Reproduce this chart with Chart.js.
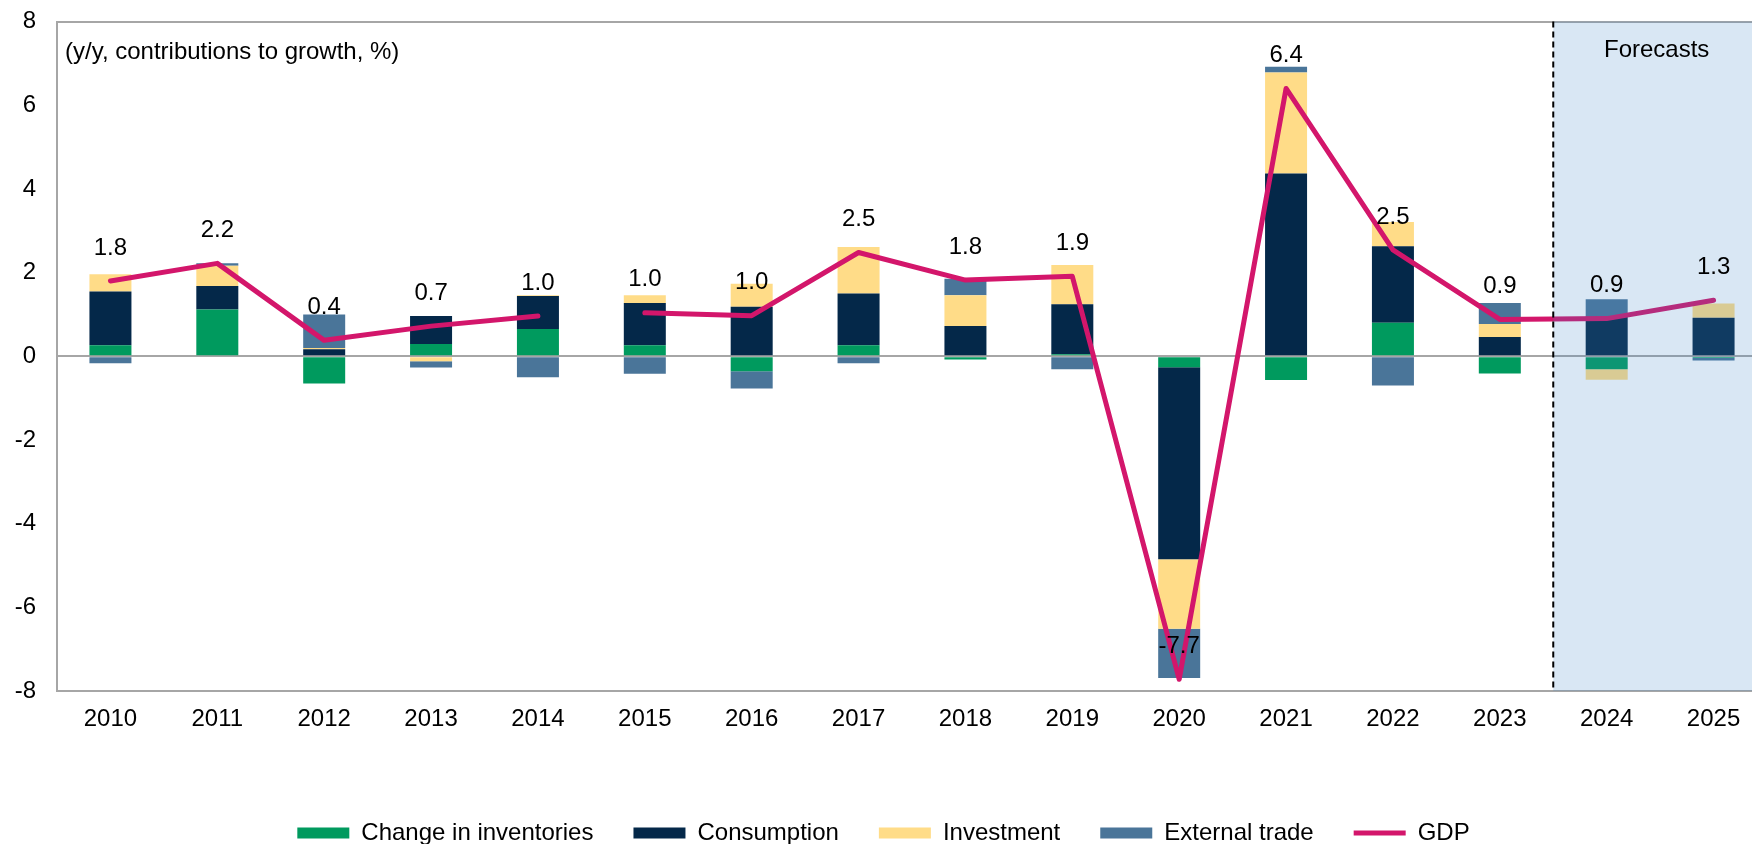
<!DOCTYPE html>
<html>
<head>
<meta charset="utf-8">
<title>GDP contributions</title>
<script src="https://cdn.jsdelivr.net/npm/chart.js@4"></script>
<style>
    html, body { margin: 0; padding: 0; overflow: hidden; background: #fff; }
    #wrap { width: 1767px; height: 855px; }
</style>
</head>
<body>
<div id="wrap"><canvas id="myChart" width="1767" height="855"></canvas></div>
<script>
// Données (contributions à la croissance, en points de %)
const years = ['2010', '2011', '2012', '2013', '2014', '2015', '2016', '2017',
               '2018', '2019', '2020', '2021', '2022', '2023', '2024', '2025'];
const inventories   = [0.26, 1.12, -0.65, 0.29, 0.65, 0.26, -0.36, 0.26, -0.08, 0.05, -0.26, -0.57, 0.80, -0.41, -0.31, -0.04];
const consumption   = [1.29, 0.56, 0.17, 0.67, 0.79, 1.01, 1.18, 1.24, 0.72, 1.19, -4.59, 4.37, 1.83, 0.46, 0.95, 0.92];
const investment    = [0.41, 0.48, 0.03, -0.12, 0.02, 0.19, 0.55, 1.11, 0.74, 0.94, -1.66, 2.41, 0.58, 0.31, -0.25, 0.34];
const externalTrade = [-0.17, 0.06, 0.80, -0.15, -0.50, -0.42, -0.41, -0.17, 0.39, -0.31, -1.18, 0.14, -0.70, 0.50, 0.41, -0.06];
const gdp           = [1.80, 2.22, 0.38, 0.72, 0.96, 1.04, 0.97, 2.48, 1.82, 1.91, -7.72, 6.40, 2.54, 0.88, 0.90, 1.34];
const yTicks = [-8, -6, -4, -2, 0, 2, 4, 6, 8];
const firstForecast = 14; // index de 2024

const FONT = "'Liberation Sans', Arial, sans-serif";
Chart.defaults.font.family = FONT;
Chart.defaults.font.size = 24;
Chart.defaults.color = '#000';

// Zone de prévisions, étiquettes du PIB et textes
const forecastPlugin = {
    id: 'forecast',
    afterDatasetsDraw(chart) {
        const { ctx, chartArea, scales: { x } } = chart;
        const xStart = (x.getPixelForValue(firstForecast - 1) + x.getPixelForValue(firstForecast)) / 2;
        ctx.save();
        ctx.fillStyle = 'rgba(65, 135, 200, 0.2)';
        ctx.fillRect(xStart, chartArea.top, chartArea.right - xStart, chartArea.bottom - chartArea.top);

        ctx.strokeStyle = '#000';
        ctx.lineWidth = 2;
        ctx.setLineDash([6, 4]);
        ctx.beginPath();
        ctx.moveTo(xStart, chartArea.top);
        ctx.lineTo(xStart, chartArea.bottom);
        ctx.stroke();
        ctx.setLineDash([]);

        ctx.font = '24px ' + FONT;
        ctx.fillStyle = '#000';
        ctx.textBaseline = 'middle';
        ctx.textAlign = 'center';
        const meta = chart.getDatasetMeta(4);
        meta.data.forEach((pt, i) => {
            ctx.fillText(gdp[i].toFixed(1), pt.x, pt.y - 33);
        });
        ctx.fillText('Forecasts', x.getPixelForValue(firstForecast) + 50, chartArea.top + 29);

        ctx.textAlign = 'left';
        ctx.fillText('(y/y, contributions to growth, %)', chartArea.left + 8, chartArea.top + 31);
        ctx.restore();
    }
};

function barSet(label, data, color) {
    return {
        label: label,
        data: data,
        backgroundColor: color,
        borderWidth: 0,
        pointStyle: 'rect',
        barPercentage: 0.393,
        categoryPercentage: 1.0,
        order: 1
    };
}

let ctx = document.getElementById('myChart').getContext('2d');
let myChart = new Chart(ctx, {
    type: 'bar',
    data: {
        labels: years,
        datasets: [
            barSet('Change in inventories', inventories, '#009A5E'),
            barSet('Consumption', consumption, '#042849'),
            barSet('Investment', investment, '#FFDC88'),
            barSet('External trade', externalTrade, '#4A7599'),
            {
                type: 'line',
                label: 'GDP',
                data: gdp,
                stack: 'gdp',
                borderColor: '#D3166B',
                backgroundColor: '#D3166B',
                borderWidth: 5,
                borderCapStyle: 'round',
                borderJoinStyle: 'round',
                pointRadius: 0,
                pointStyle: 'line',
                tension: 0,
                order: 0,
                // pas de segment entre 2014 et 2015
                segment: {
                    borderColor: c => c.p0DataIndex === 4 ? 'rgba(0,0,0,0)' : undefined
                }
            }
        ]
    },
    options: {
        responsive: false,
        animation: false,
        layout: { padding: { top: 21.5, left: 0, right: 0, bottom: 0 } },
        plugins: {
            tooltip: { enabled: false },
            legend: {
                position: 'bottom',
                labels: {
                    usePointStyle: true,
                    pointStyleWidth: 52,
                    boxHeight: 11,
                    padding: 40,
                    color: '#000',
                    font: { size: 24 },
                    sort: (a, b) => a.datasetIndex - b.datasetIndex
                }
            }
        },
        scales: {
            x: {
                stacked: true,
                offset: true,
                grid: { display: false, drawTicks: false },
                border: { display: true, color: '#A6A6A6', width: 2 },
                ticks: { padding: 14, color: '#000', maxRotation: 0, autoSkip: false },
                afterFit: scale => { scale.height = 90; }
            },
            y: {
                stacked: true,
                min: -8,
                max: 8,
                afterBuildTicks: scale => { scale.ticks = yTicks.map(v => ({ value: v })); },
                grid: {
                    drawTicks: false,
                    lineWidth: 2,
                    color: c => (c.tick && (c.tick.value === 0 || c.tick.value === 8)) ? '#A6A6A6' : 'rgba(0,0,0,0)'
                },
                border: { display: true, color: '#A6A6A6', width: 2 },
                ticks: { padding: 21, color: '#000' },
                afterFit: scale => {
                    scale.width = 57;
                    scale.paddingTop = 0;
                    scale.paddingBottom = 0;
                }
            }
        }
    },
    plugins: [forecastPlugin]
});
</script>
</body>
</html>
